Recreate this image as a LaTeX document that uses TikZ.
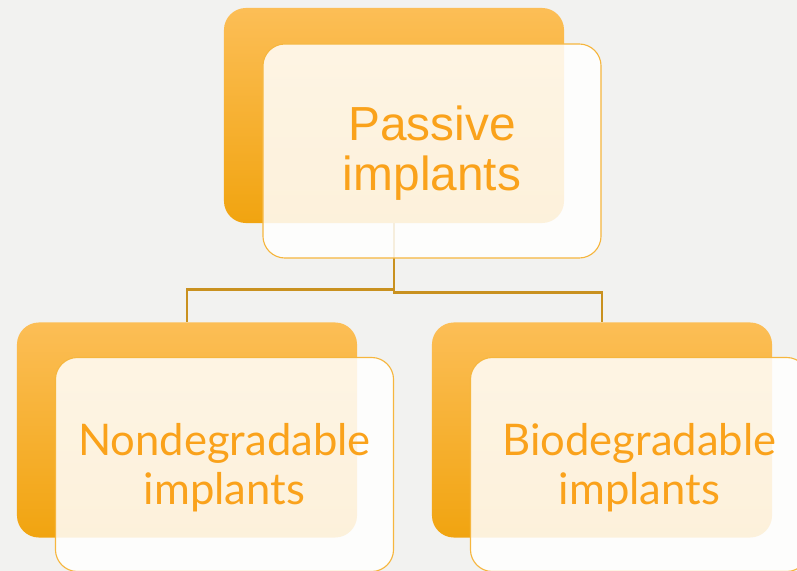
\documentclass[tikz,border=0pt]{standalone}
\usepackage{fontspec}
\setmainfont{Liberation Sans}
\newfontfamily\gillfont{Lato}
\definecolor{bgcol}{HTML}{F2F2F0}
\definecolor{backtop}{HTML}{FCBE56}
\definecolor{backmid}{HTML}{FEB821}
\definecolor{backbot}{HTML}{F1A410}
\definecolor{frontline}{HTML}{F6B63E}
\definecolor{textcol}{HTML}{FAA21B}
\definecolor{linkcol}{HTML}{C9911F}
\begin{document}
\begin{tikzpicture}[x=0.025cm, y=-0.025cm,
    back/.style={rounded corners=0.55cm, top color=backtop, middle color=backmid,
                 bottom color=backbot, minimum width=8.5cm, minimum height=5.375cm},
    front/.style={draw=frontline, line width=0.8pt, rounded corners=0.55cm,
                  fill=white, fill opacity=0.85, text opacity=1, text=textcol,
                  minimum width=8.45cm, minimum height=5.35cm, align=center},
    link/.style={draw=linkcol, line width=2pt},
  ]
    % fondo
    \fill[bgcol] (0,0) rectangle (797,571);
    \clip (0,0) rectangle (797,571);

    % cajas de atras
    \node[back] (passB)    at (394,115.5) {};
    \node[back] (nondegB)  at (187,430) {};
    \node[back] (biodegB)  at (602,430) {};

    % lineas
    \draw[link] (passB.south) -- ++(0,66) -| (nondegB.north);
    \draw[link] (passB.south) -- ++(0,69) -| (biodegB.north);

    % cajas de delante
    \node[front, font=\fontsize{34}{35.5}\selectfont] (pass) at (432,151)
      {\rule{0pt}{28pt}Passive\\implants};
    \node[front, font=\gillfont\fontsize{31}{34.8}\selectfont] (nondeg) at (224.5,464.5)
      {\rule{0pt}{27pt}Nondegradable\\implants};
    \node[front, font=\gillfont\fontsize{31}{34.8}\selectfont] (biodeg) at (639.5,464.5)
      {\rule{0pt}{27pt}Biodegradable\\implants};
\end{tikzpicture}
\end{document}
